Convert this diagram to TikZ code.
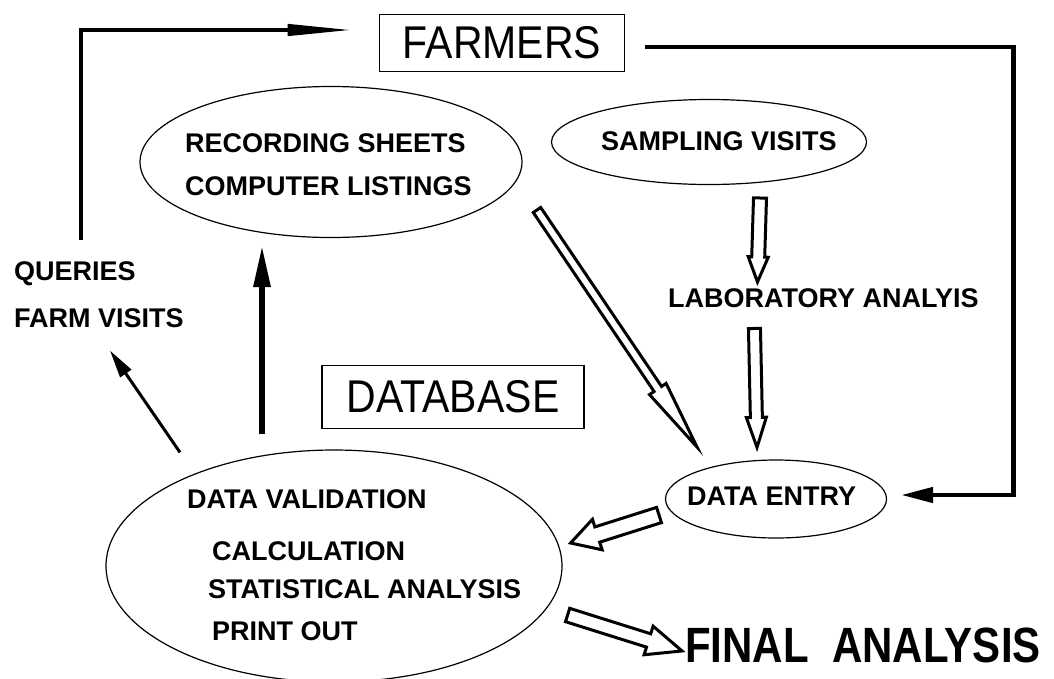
\documentclass[tikz,border=0pt]{standalone}
\usepackage{fontspec}
\setmainfont{Liberation Sans}
\usetikzlibrary{arrows.meta, calc, shapes.geometric}

% hohler Pfeil: Start, Spitze, halbe Schaftbreite, halbe Kopfbreite, Kopflaenge
\newcommand{\hollowarrow}[5]{%
  \path #1 coordinate (ha) #2 coordinate (hb);
  \path ($(hb)!#5!(ha)$) coordinate (hh);
  \draw[hollow] ($(ha)!#3!90:(hb)$) -- ($(hh)!#3!-90:(ha)$) -- ($(hh)!#4!-90:(ha)$)
    -- (hb) -- ($(hh)!#4!90:(ha)$) -- ($(hh)!#3!90:(ha)$) -- ($(ha)!#3!-90:(hb)$) -- cycle;
}
% hohe, schmale Grossschrift
\newcommand{\tallfont}[2][1.12]{\scalebox{1}[#1]{#2}}

\begin{document}
\begin{tikzpicture}[x=1pt, y=-1pt,
    lbl/.style={font=\bfseries\fontsize{27}{32}\selectfont, inner sep=0pt, anchor=base west},
    bigtxt/.style={font=\fontsize{41}{48}\selectfont},
    box/.style={draw, line width=1.8pt, inner sep=0pt},
    oval/.style={ellipse, draw, line width=1.2pt, inner sep=0pt},
    loopline/.style={line width=4.5pt},
    hollow/.style={draw, line width=3pt, fill=white}
  ]
  \useasboundingbox (0,0) rectangle (1054,678);

  % Kaesten
  \node[box, bigtxt, minimum width=245pt, minimum height=57pt] (farm) at (502,43) {\tallfont{FARMERS}};
  \node[box, bigtxt, minimum width=262pt, minimum height=63pt] (dbase) at (453,397) {\tallfont{DATABASE}};

  % Ellipsen
  \node[oval, minimum width=382pt, minimum height=151pt] (rec) at (331,162) {};
  \node[oval, minimum width=315pt, minimum height=85pt] (samp) at (709,142) {};
  \node[oval, minimum width=221pt, minimum height=78pt] (entry) at (776,499) {};
  \node[oval, minimum width=456pt, minimum height=232pt] (db) at (334,566) {};

  % Beschriftungen
  \node[lbl] (rs) at (185,152) {RECORDING SHEETS};
  \node[lbl] (cl) at (185,195) {COMPUTER LISTINGS};
  \node[lbl] (sv) at (601,150) {SAMPLING VISITS};
  \node[lbl] (lab) at (668,307) {LABORATORY ANALYIS};
  \node[lbl] (de) at (687,505) {DATA ENTRY};
  \node[lbl] (qu) at (14,280) {QUERIES};
  \node[lbl] (fv) at (14,327) {FARM VISITS};
  \node[lbl] (dv) at (187,508) {DATA VALIDATION};
  \node[lbl] (cal) at (212,560) {CALCULATION};
  \node[lbl] (stat) at (208,598) {STATISTICAL ANALYSIS};
  \node[lbl] (po) at (212,640) {PRINT OUT};
  \node[lbl, font=\bfseries\fontsize{42}{48}\selectfont] (final) at (685,662) {\tallfont[1.18]{FINAL\ \ ANALYSIS}};

  % Rueckfuehrung zu den Landwirten
  \coordinate (qtop) at ($(qu.north)+(6,-21)$);
  \draw[loopline, -{Triangle[length=66pt, width=11pt]}] (qtop) |- ($(farm.west)+(-25,-13)$);
  \draw[loopline, -{Triangle[length=32pt, width=15pt]}]
    ($(farm.east)+(20,4)$) -- ++(368,0) |- ($(entry.east)+(14,-4)$);

  % volle Pfeile
  \draw[line width=6pt, -{Triangle[length=42pt, width=16pt]}]
    ($(db.north)+(-72,-15)$) -- ($(rec.south)+(-69,7)$);
  \draw[line width=3pt, -{Triangle[length=28pt, width=13pt]}]
    ($(db.north)+(-154,3)$) -- ($(fv.south)+(11,23)$);

  % hohle Pfeile
  \hollowarrow{($(rec)+(206,48)$)}{($(entry)+(-79,-52)$)}{4.5pt}{10pt}{70pt}
  \hollowarrow{($(samp)+(51,56)$)}{($(lab.north)+(-66,-6)$)}{6.5pt}{10pt}{25pt}
  \hollowarrow{($(lab.south)+(-69,21)$)}{($(entry.north)+(-19,-12)$)}{6pt}{10pt}{30pt}
  \hollowarrow{($(entry)+(-117,16)$)}{($(db.east)+(8,-23)$)}{8pt}{16pt}{28pt}
  \hollowarrow{($(db.east)+(5,49)$)}{($(final.west)+(-3,6)$)}{7pt}{15pt}{35pt}

\end{tikzpicture}
\end{document}
